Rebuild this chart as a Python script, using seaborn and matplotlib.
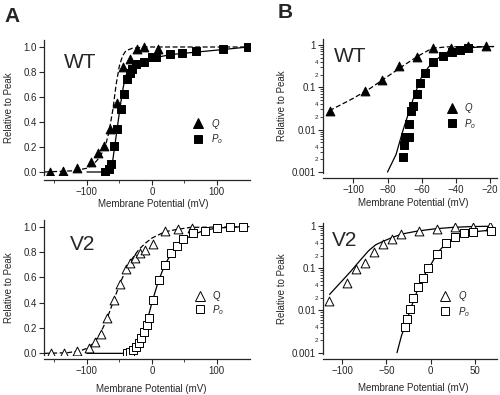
import matplotlib
matplotlib.use("Agg")
import matplotlib.pyplot as plt
import numpy as np
import seaborn as sns
from matplotlib.lines import Line2D
from matplotlib.ticker import FixedLocator, FixedFormatter

sns.set_style("ticks")
plt.rcParams['font.family'] = ['Liberation Sans', 'DejaVu Sans']
plt.rcParams['mathtext.fontset'] = 'custom'
plt.rcParams['mathtext.it'] = 'Liberation Sans:italic'
plt.rcParams['mathtext.rm'] = 'Liberation Sans'

# ---- panel A, WT (linear) ----
a_wt_q_v = [-156, -137, -115, -94, -83, -74, -64, -54, -44, -34, -23, -12, 10]
a_wt_q_y = [0.0, 0.01, 0.03, 0.08, 0.15, 0.21, 0.34, 0.55, 0.84, 0.90, 0.98, 1.0, 0.98]
a_wt_p_v = [-72, -66, -63, -58, -53, -48, -43, -38, -34, -31, -24, -12, 0, 6, 28, 47, 68, 109, 148]
a_wt_p_y = [0.0, 0.02, 0.06, 0.21, 0.34, 0.50, 0.62, 0.74, 0.79, 0.82, 0.86, 0.88, 0.92, 0.92,
            0.94, 0.95, 0.97, 0.98, 1.0]
a_wt_qfit_v = [-165, -120, -100, -90, -80, -72, -66, -60, -55, -50, -45, -40, -30, -10, 150]
a_wt_qfit_y = [0.0, 0.01, 0.03, 0.06, 0.12, 0.20, 0.32, 0.50, 0.70, 0.85, 0.93, 0.97, 0.99, 1.0, 1.0]
a_wt_pfit_v = [-100, -70, -65, -60, -56, -52, -48, -44, -40, -35, -28, -15, 0, 30, 70, 110, 148]
a_wt_pfit_y = [0.0, 0.0, 0.02, 0.10, 0.25, 0.40, 0.55, 0.68, 0.77, 0.83, 0.86, 0.89, 0.91,
               0.94, 0.96, 0.98, 1.0]

# ---- panel A, V2 (linear) ----
a_v2_q_v = [-155, -135, -115, -97, -88, -78, -69, -59, -49, -40, -33, -26, -18, -11, 2, 20, 40, 61]
a_v2_q_y = [0.0, 0.0, 0.02, 0.04, 0.09, 0.15, 0.28, 0.42, 0.55, 0.67, 0.71, 0.75, 0.79, 0.82,
            0.86, 0.97, 0.98, 0.99]
a_v2_p_v = [-38, -34, -29, -24, -20, -16, -12, -8, -4, 1, 11, 20, 30, 38, 48, 64, 82, 100, 120, 140]
a_v2_p_y = [0.0, 0.01, 0.03, 0.05, 0.08, 0.12, 0.17, 0.22, 0.28, 0.42, 0.58, 0.70, 0.79, 0.85,
            0.90, 0.95, 0.97, 0.99, 1.0, 1.0]
a_v2_qfit_v = [-165, -130, -110, -100, -90, -80, -70, -60, -50, -40, -30, -20, -10, 0, 20, 40, 60, 150]
a_v2_qfit_y = [0.0, 0.005, 0.02, 0.04, 0.08, 0.15, 0.26, 0.40, 0.54, 0.66, 0.75, 0.82, 0.87,
               0.91, 0.96, 0.98, 0.995, 1.0]
a_v2_pfit_v = [-100, -40, -30, -20, -10, 0, 10, 20, 30, 40, 60, 80, 100, 140]
a_v2_pfit_y = [0.0, 0.0, 0.01, 0.06, 0.20, 0.40, 0.57, 0.70, 0.79, 0.86, 0.93, 0.97, 0.99, 1.0]

# ---- panel B, WT (log) ----
b_wt_q_v = [-113.6, -93.2, -83.4, -73.2, -62.9, -53.2, -42.9, -32.7, -22.5]
b_wt_q_y = [0.027, 0.083, 0.15, 0.31, 0.51, 0.84, 0.86, 0.95, 0.92]
b_wt_p_v = [-71.1, -70.4, -69.8, -67.5, -67.3, -66.3, -65.3, -62.9, -61.0, -58.1, -53.2, -47.4,
            -42.5, -37.6, -32.7]
b_wt_p_y = [0.0023, 0.0044, 0.0069, 0.0069, 0.0138, 0.027, 0.037, 0.069, 0.125, 0.22, 0.40,
            0.55, 0.69, 0.76, 0.83]
b_wt_qfit_v = [-114, -100, -90, -80, -70, -62, -56, -52, -45, -30, -18]
b_wt_qfit_y = [0.028, 0.055, 0.095, 0.18, 0.34, 0.55, 0.75, 0.85, 0.90, 0.91, 0.91]
b_wt_pfit_v = [-80, -75, -71, -67, -64, -60, -56, -53, -47, -40, -33, -25, -18]
b_wt_pfit_y = [0.001, 0.0026, 0.0095, 0.03, 0.07, 0.18, 0.30, 0.40, 0.62, 0.76, 0.85, 0.90, 0.92]

# ---- panel B, V2 (log) ----
b_v2_q_v = [-114.3, -94, -84.2, -74.1, -63.9, -54.1, -44, -33.8, -12.9, 6.8, 27.4, 47.4, 66.9]
b_v2_q_y = [0.017, 0.045, 0.094, 0.135, 0.24, 0.37, 0.49, 0.64, 0.76, 0.85, 0.96, 0.96, 1.0]
b_v2_p_v = [-29, -26.4, -23.3, -19.6, -14, -9, -2.7, 6.8, 17.2, 27.4, 37.5, 47.4, 67.6]
b_v2_p_y = [0.0041, 0.0063, 0.0106, 0.020, 0.035, 0.06, 0.103, 0.22, 0.39, 0.54, 0.67, 0.73, 0.77]
b_v2_qfit_v = [-114, -100, -90, -80, -70, -62, -52, -42, -32, -15, 5, 25, 45, 68]
b_v2_qfit_y = [0.024, 0.05, 0.085, 0.15, 0.26, 0.36, 0.45, 0.55, 0.65, 0.76, 0.86, 0.93, 0.97, 0.99]
b_v2_pfit_v = [-38, -33, -28, -22, -15, -8, 0, 8, 18, 28, 38, 48, 68]
b_v2_pfit_y = [0.001, 0.0025, 0.005, 0.012, 0.03, 0.065, 0.12, 0.24, 0.40, 0.55, 0.66, 0.73, 0.80]

W, H = 500, 395
fig = plt.figure(figsize=(5, 3.95), dpi=100)


def px_axes(left, top, right, bottom):
    return fig.add_axes([left / W, 1 - bottom / H, (right - left) / W, (bottom - top) / H])


def style_axes(ax, xoff):
    sns.despine(ax=ax)
    ax.spines['bottom'].set_position(('outward', xoff))
    for s in ('left', 'bottom'):
        ax.spines[s].set_linewidth(0.9)
    ax.tick_params(which='major', direction='out', length=3.5, width=0.8, pad=1.5, labelsize=7)
    ax.tick_params(which='minor', direction='out', length=2, width=0.6)
    ax.set_facecolor('none')


def draw(ax, qv, qy, pv, py, qfv, qfy, pfv, pfy, filled, qdash, pdash):
    ls_q = (0, (4, 2)) if qdash else '-'
    ls_p = (0, (4, 2)) if pdash else '-'
    sns.lineplot(x=qfv, y=qfy, ax=ax, color='black', lw=0.9, linestyle=ls_q,
                 sort=False, estimator=None)
    sns.lineplot(x=pfv, y=pfy, ax=ax, color='black', lw=0.9, linestyle=ls_p,
                 sort=False, estimator=None)
    fc = 'black' if filled else 'white'
    sns.scatterplot(x=qv, y=qy, ax=ax, marker='^', s=40, color=fc, edgecolor='black',
                    linewidth=0.7, zorder=3)
    sns.scatterplot(x=pv, y=py, ax=ax, marker='s', s=28, color=fc, edgecolor='black',
                    linewidth=0.7, zorder=3)


def legend(ax, x, y, filled, qlabel):
    fc = 'black' if filled else 'white'
    h = [Line2D([], [], ls='none', marker='^', ms=6.5, mfc=fc, mec='black', mew=0.7),
         Line2D([], [], ls='none', marker='s', ms=5.5, mfc=fc, mec='black', mew=0.7)]
    ax.legend(h, [qlabel, r'$P_o$'], frameon=False, loc='center left', bbox_to_anchor=(x, y),
              borderpad=0, handlelength=1, handletextpad=0.8, labelspacing=0.15, fontsize=7)


def lin_axes(ax):
    ax.set_xlim(-166, 151)
    ax.set_xticks([-100, 0, 100])
    ax.xaxis.set_minor_locator(FixedLocator([-150, -50, 50]))
    ax.set_yticks([0, 0.2, 0.4, 0.6, 0.8, 1.0])
    ax.set_yticklabels(['0.0', '0.2', '0.4', '0.6', '0.8', '1.0'])


def log_axes(ax, ylim):
    ax.set_yscale('log')
    ax.set_ylim(*ylim)
    ax.yaxis.set_major_locator(FixedLocator([0.001, 0.01, 0.1, 1]))
    ax.yaxis.set_major_formatter(FixedFormatter(['0.001', '0.01', '0.1', '1']))
    minors = [m * d for d in (0.001, 0.01, 0.1) for m in range(2, 10)]
    ax.yaxis.set_minor_locator(FixedLocator(minors))
    ax.yaxis.set_minor_formatter(FixedFormatter(
        [str(m) if m in (2, 4) else '' for d in (0.001, 0.01, 0.1) for m in range(2, 10)]))
    ax.tick_params(axis='y', which='minor', labelsize=4.5, pad=1.5)


xlabel = 'Membrane Potential (mV)'
ylabel = 'Relative to Peak'

# A top
ax1 = px_axes(44, 40, 250, 175)
draw(ax1, a_wt_q_v, a_wt_q_y, a_wt_p_v, a_wt_p_y, a_wt_qfit_v, a_wt_qfit_y,
     a_wt_pfit_v, a_wt_pfit_y, True, True, False)
lin_axes(ax1)
ax1.set_ylim(-0.024, 1.056)
style_axes(ax1, 3.6)
legend(ax1, 0.70, 0.322, True, r'$Q$')

# A bottom
ax2 = px_axes(44, 220, 250, 355)
draw(ax2, a_v2_q_v, a_v2_q_y, a_v2_p_v, a_v2_p_y, a_v2_qfit_v, a_v2_qfit_y,
     a_v2_pfit_v, a_v2_pfit_y, False, True, False)
lin_axes(ax2)
ax2.set_ylim(-0.013, 1.053)
style_axes(ax2, 3.0)
legend(ax2, 0.709, 0.378, False, 'Q')

# B top
ax3 = px_axes(323, 39, 497, 173)
draw(ax3, b_wt_q_v, b_wt_q_y, b_wt_p_v, b_wt_p_y, b_wt_qfit_v, b_wt_qfit_y,
     b_wt_pfit_v, b_wt_pfit_y, True, True, False)
ax3.set_xlim(-117.7, -16)
ax3.set_xticks([-100, -80, -60, -40, -20])
log_axes(ax3, (0.00095, 1.38))
style_axes(ax3, 3.6)
legend(ax3, 0.683, 0.425, True, r'$Q$')

# B bottom
ax4 = px_axes(323, 223, 497, 354)
draw(ax4, b_v2_q_v, b_v2_q_y, b_v2_p_v, b_v2_p_y, b_v2_qfit_v, b_v2_qfit_y,
     b_v2_pfit_v, b_v2_pfit_y, False, False, False)
ax4.set_xlim(-121.4, 74.7)
ax4.set_xticks([-100, -50, 0, 50])
log_axes(ax4, (0.00093, 1.18))
style_axes(ax4, 3.6)
legend(ax4, 0.648, 0.382, False, r'$Q$')

for ax, lx, ly, yx in [(ax1, 0.53, -0.18, -0.145), (ax2, 0.52, -0.215, -0.145),
                       (ax3, 0.52, -0.19, -0.205), (ax4, 0.52, -0.225, -0.205)]:
    ax.set_xlabel(xlabel, fontsize=7)
    ax.set_ylabel(ylabel, fontsize=7)
    ax.xaxis.set_label_coords(lx, ly)
    ax.yaxis.set_label_coords(yx, 0.5)

# panel letters and genotype labels
fig.text(12 / W, 1 - 16 / H, 'A', fontsize=15, fontweight='bold', ha='center', va='center')
fig.text(285 / W, 1 - 13 / H, 'B', fontsize=15, fontweight='bold', ha='center', va='center')
fig.text(80 / W, 1 - 63 / H, 'WT', fontsize=15, ha='center', va='center')
fig.text(83 / W, 1 - 245 / H, 'V2', fontsize=15, ha='center', va='center')
fig.text(350 / W, 1 - 57 / H, 'WT', fontsize=15, ha='center', va='center')
fig.text(345 / W, 1 - 240 / H, 'V2', fontsize=15, ha='center', va='center')

fig.savefig('out.png', dpi=100, facecolor='white')
